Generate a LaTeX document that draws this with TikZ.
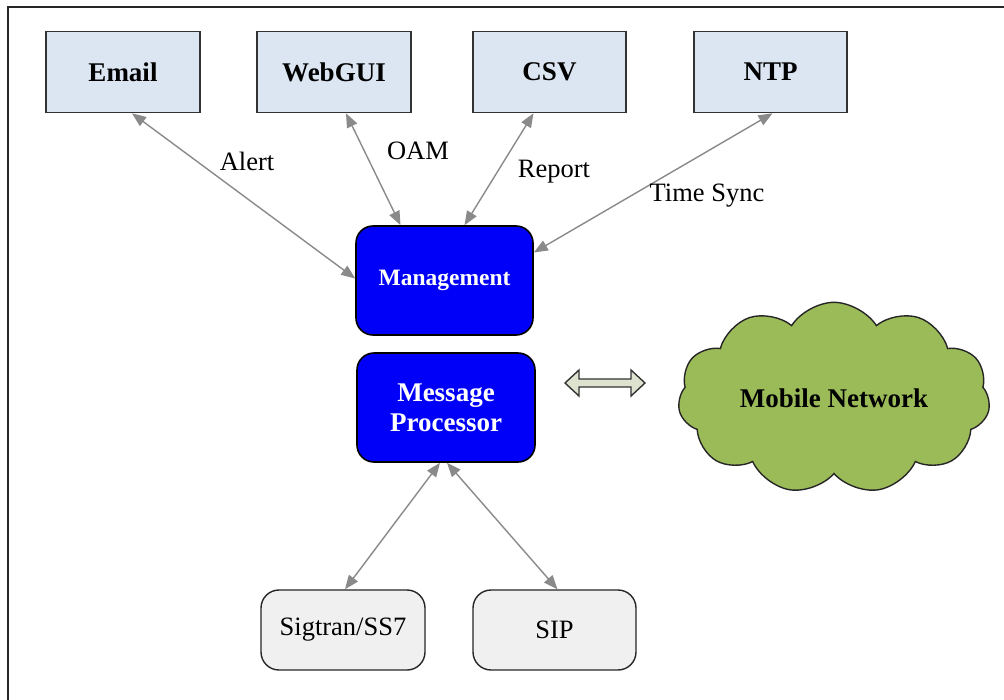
\documentclass[tikz,border=0pt]{standalone}
\usepackage{fontspec}
\IfFontExistsTF{LiberationSerif-Regular.ttf}
  {\setmainfont{LiberationSerif-Regular.ttf}[BoldFont=LiberationSerif-Bold.ttf]}
  {\setmainfont{Liberation Serif}}
\usetikzlibrary{shapes.symbols,arrows.meta,calc}
\definecolor{topfill}{HTML}{DCE6F2}
\definecolor{mgblue}{HTML}{0000F8}
\definecolor{botfill}{HTML}{F0F0F0}
\definecolor{cloudgreen}{HTML}{9BBB59}
\definecolor{arrgray}{HTML}{8A8A8A}
\definecolor{dblfill}{HTML}{DDE3CF}
\tikzset{
  topbox/.style={draw=black!80, line width=1.6pt, fill=topfill, minimum width=154pt, minimum height=81pt, font=\fontsize{27}{30}\selectfont\bfseries},
  corebox/.style={draw=black, line width=1.6pt, fill=mgblue, rounded corners=17pt, minimum width=177pt, minimum height=109pt, text=white, align=center},
  botbox/.style={draw=black!85, line width=1.4pt, fill=botfill, rounded corners=18pt, minimum width=164pt, minimum height=80pt, font=\fontsize{26.5}{29}\selectfont},
  link/.style={draw=arrgray, line width=1.4pt, {Triangle[length=14pt,width=11pt]}-{Triangle[length=14pt,width=11pt]}},
  lbl/.style={font=\fontsize{26.5}{29}\selectfont, inner sep=0pt}
}
\begin{document}
\begin{tikzpicture}[x=1pt,y=-1pt]
\useasboundingbox (0,0) rectangle (1004,699);
\fill[white] (0,0) rectangle (1004,699);
\draw[line width=2pt, black!85] (8,7) rectangle (1012,710);

\node[topbox] (Email) at (123,72) {Email};
\node[topbox] (WebGUI) at (334,72) {WebGUI};
\node[topbox, minimum width=153pt] (CSV) at (549.5,72) {CSV};
\node[topbox, minimum width=153pt] (NTP) at (770.5,72) {NTP};

\node[corebox, font=\fontsize{23.5}{26}\selectfont\bfseries] (Mgmt) at (444.5,280.5) {Management};
\node[corebox, minimum width=178pt, font=\fontsize{27}{30}\selectfont\bfseries] (MP) at (446,407.5) {Message\\Processor};

\node[cloud, cloud puffs=11, cloud puff arc=115, aspect=1.7, draw=black!85, line width=1.4pt, fill=cloudgreen, minimum width=312pt, minimum height=185pt, inner sep=0pt, font=\fontsize{27}{29}\selectfont\bfseries, text depth=-8pt] (Cloud) at (834,398) {Mobile Network};

\node[botbox] (Sig) at (343,630) {Sigtran/SS7};
\node[botbox, minimum width=163pt] (SIP) at (554.5,630) {SIP};

\draw[link] ([xshift=9pt]Email.south) -- ([yshift=2pt]Mgmt.west);
\draw[link] ([xshift=12pt]WebGUI.south) -- ([xshift=-44pt]Mgmt.north);
\draw[link] ([xshift=-16pt]CSV.south) -- ([xshift=20pt]Mgmt.north);
\draw[link] ([xshift=2pt]NTP.south) -- ([yshift=28pt]Mgmt.east);
\draw[link] ([xshift=-6pt]MP.south) -- ([xshift=2pt]Sig.north);
\draw[link] ([xshift=1pt]MP.south) -- ([xshift=3pt]SIP.north);

\node[lbl] (lAlert) at (247,161) {Alert};
\node[lbl] (lOAM) at (418,151) {OAM};
\node[lbl] (lReport) at (554,172) {Report};
\node[lbl] (lTime) at (707,196) {Time Sync};

\draw[line width=1.4pt, draw=black!80, fill=dblfill, line join=miter]
  (565,383) -- (579,370) -- (579,379) -- (631,379) -- (631,370) -- (645,383)
  -- (631,396) -- (631,387) -- (579,387) -- (579,396) -- cycle;
\end{tikzpicture}
\end{document}
